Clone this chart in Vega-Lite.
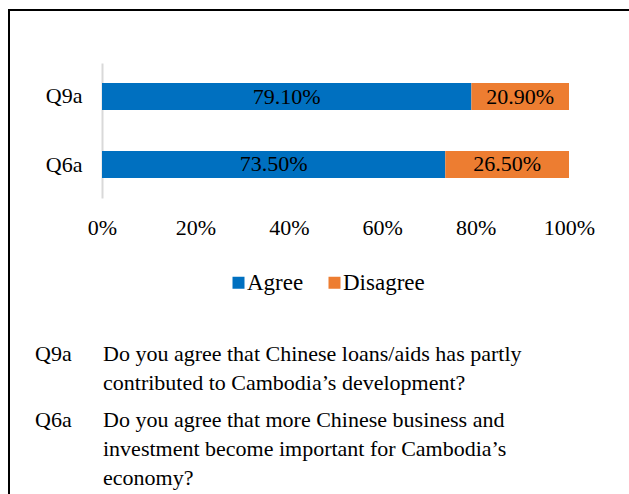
{
  "$schema": "https://vega.github.io/schema/vega-lite/v6.json",
  "autosize": {"type": "none"},
  "width": 621,
  "height": 486,
  "padding": {"left": 9, "top": 10, "right": 0, "bottom": 0},
  "background": "white",
  "config": {
    "view": {"stroke": "black", "strokeWidth": 2},
    "font": "Liberation Serif"
  },
  "datasets": {
    "bars": [
      {"q": "Q9a", "response": "Agree", "value": 0.791},
      {"q": "Q9a", "response": "Disagree", "value": 0.209},
      {"q": "Q6a", "response": "Agree", "value": 0.735},
      {"q": "Q6a", "response": "Disagree", "value": 0.265}
    ],
    "notes": [
      {"q": "Q9a", "part": "id", "t": "Q9a"},
      {"q": "Q9a", "part": "desc", "t": "Do you agree that Chinese loans/aids has partly\ncontributed to Cambodia’s development?"},
      {"q": "Q6a", "part": "id", "t": "Q6a"},
      {"q": "Q6a", "part": "desc", "t": "Do you agree that more Chinese business and\ninvestment become important for Cambodia’s\neconomy?"}
    ]
  },
  "layer": [
    {
      "data": {"name": "bars"},
      "mark": {"type": "bar"},
      "encoding": {
        "y": {
          "field": "q", "type": "nominal",
          "scale": {"domain": ["Q9a", "Q6a"], "range": [53, 188], "paddingInner": 0.603, "paddingOuter": 0.294},
          "axis": {"title": null, "orient": "left", "offset": -93, "domainColor": "#d9d9d9", "domainWidth": 2, "ticks": false, "labelPadding": 20, "labelFontSize": 22, "labelColor": "black", "labelFont": "Liberation Serif"}
        },
        "x": {
          "field": "value", "type": "quantitative", "stack": "zero",
          "scale": {"domain": [0, 1], "range": [93, 560], "nice": false},
          "axis": {"title": null, "orient": "bottom", "offset": -279, "format": ".0%", "values": [0, 0.2, 0.4, 0.6, 0.8, 1], "domain": false, "ticks": false, "grid": false, "labelPadding": 0, "labelFontSize": 22, "labelColor": "black", "labelFont": "Liberation Serif", "labelFlush": false}
        },
        "color": {
          "field": "response", "type": "nominal",
          "scale": {"domain": ["Agree", "Disagree"], "range": ["#0070C0", "#ED7D31"]},
          "legend": {"title": null, "orient": "none", "direction": "horizontal", "legendX": 218, "legendY": 261, "symbolType": "square", "symbolSize": 144, "symbolStrokeWidth": 0, "labelFontSize": 23, "labelFont": "Liberation Serif", "labelColor": "black", "labelOffset": -3, "columnPadding": 19}
        },
        "order": {"field": "response", "sort": "ascending"}
      }
    },
    {
      "data": {"name": "bars"},
      "transform": [
        {"stack": "value", "groupby": ["q"], "sort": [{"field": "response", "order": "ascending"}], "as": ["v0", "v1"]},
        {"calculate": "(datum.v0 + datum.v1) / 2", "as": "mid"}
      ],
      "mark": {"type": "text", "fontSize": 22, "font": "Liberation Serif", "color": "black", "baseline": "middle", "align": "center"},
      "encoding": {
        "y": {"field": "q", "type": "nominal", "scale": {"domain": ["Q9a", "Q6a"], "range": [53, 188], "paddingInner": 0.603, "paddingOuter": 0.294}, "axis": null},
        "x": {"field": "mid", "type": "quantitative", "scale": {"domain": [0, 1], "range": [93, 560], "nice": false}, "axis": null},
        "text": {"field": "value", "type": "quantitative", "format": ".2%"}
      }
    },
    {
      "data": {"name": "notes"},
      "mark": {"type": "text", "fontSize": 22, "font": "Liberation Serif", "color": "black", "baseline": "middle", "align": "left", "lineBreak": "\n", "lineHeight": 29},
      "encoding": {
        "y": {"field": "q", "type": "nominal", "scale": {"type": "point", "domain": ["Q9a", "Q6a"], "range": [344, 410], "padding": 0}, "axis": null},
        "x": {"field": "part", "type": "nominal", "scale": {"type": "point", "domain": ["id", "desc"], "range": [26, 94], "padding": 0}, "axis": null},
        "text": {"field": "t", "type": "nominal"}
      }
    }
  ],
  "resolve": {"scale": {"x": "independent", "y": "independent"}}
}
